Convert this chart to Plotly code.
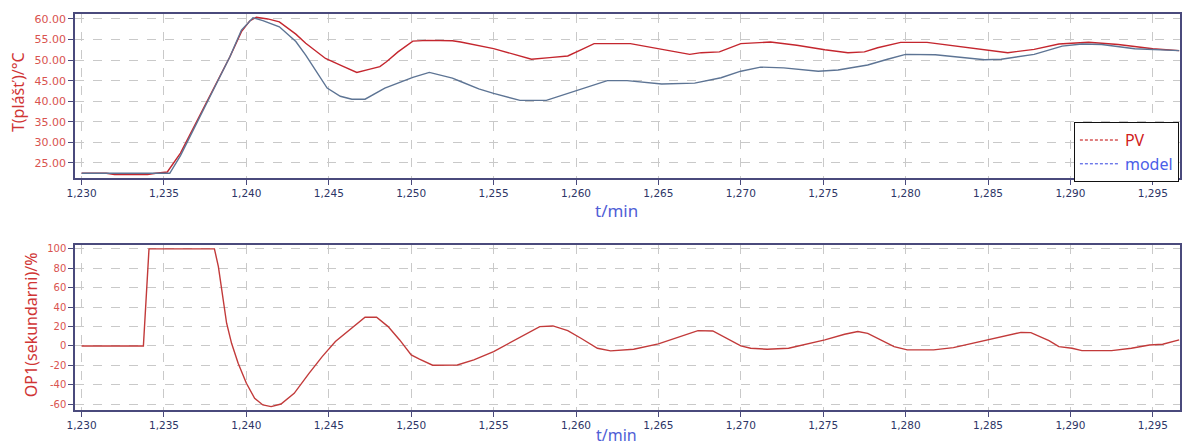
import plotly.graph_objects as go

# ---------------- data ----------------
t_pv = [1230, 1231.5, 1232, 1234, 1234.5, 1235.2, 1236, 1237, 1238, 1239, 1239.7, 1240.2,
        1240.6, 1241.3, 1242, 1243, 1243.6, 1244.8, 1245.8, 1246.7, 1247.5, 1248.1, 1248.5,
        1249.2, 1250.1, 1251, 1252.5, 1253, 1255, 1257.3, 1258.4, 1259.5, 1260.3, 1261.1,
        1263.3, 1264.9, 1266.9, 1267.6, 1268.7, 1270, 1271.8, 1273.4, 1275.1, 1276.5, 1277.5,
        1278.3, 1279.7, 1281.3, 1283.8, 1286.2, 1287.8, 1289.3, 1291.1, 1292.9, 1295, 1296.6]
pv = [22.5, 22.5, 22.2, 22.2, 22.5, 22.8, 27.4, 35.2, 43.0, 50.8, 56.9, 59.5,
      60.4, 60.0, 59.3, 56.3, 54.1, 50.4, 48.6, 47.0, 47.8, 48.4, 49.6,
      52.0, 54.6, 54.8, 54.7, 54.4, 52.8, 50.2, 50.6, 51.0, 52.5, 54.0,
      54.0, 52.8, 51.4, 51.8, 52.0, 54.0, 54.4, 53.6, 52.5, 51.8, 52.0,
      53.0, 54.3, 54.3, 53.1, 51.8, 52.6, 53.9, 54.35, 53.8, 52.75, 52.3]

t_model = [1230, 1235.35, 1236, 1237, 1238, 1239, 1239.7, 1240.4, 1241, 1242, 1243, 1243.6,
           1244.9, 1245.7, 1246.4, 1247.2, 1248.4, 1250.1, 1251.1, 1252.5, 1253, 1254.1, 1255,
           1256.6, 1258.2, 1260, 1261.9, 1263.1, 1265.2, 1267.2, 1268.8, 1270, 1271.2, 1272.6,
           1274.7, 1275.9, 1277.7, 1278.9, 1280, 1281.8, 1283.4, 1284.8, 1285.8, 1287.8, 1289.5,
           1290.7, 1291.9, 1293.9, 1296.6]
model = [22.5, 22.5, 26.8, 34.8, 42.8, 50.8, 57.3, 60.3, 59.6, 58.1, 54.5, 51.2,
         43.2, 41.2, 40.5, 40.5, 43.2, 45.8, 47.0, 45.6, 44.8, 43.0, 41.9,
         40.2, 40.2, 42.5, 45.0, 45.0, 44.2, 44.4, 45.7, 47.3, 48.3, 48.1,
         47.3, 47.6, 48.8, 50.2, 51.4, 51.3, 50.7, 50.1, 50.2, 51.4, 53.4,
         53.9, 53.8, 52.75, 52.3]

t_op = [1230, 1233.75, 1234.09, 1238.06, 1238.3, 1238.5, 1238.8, 1239.1, 1239.5, 1240,
        1240.5, 1241, 1241.5, 1242.1, 1242.9, 1243.8, 1244.6, 1245.4, 1246.4, 1247.2, 1247.9,
        1248.6, 1249.3, 1250, 1250.5, 1251.3, 1252.8, 1253.8, 1255, 1256, 1257, 1257.8,
        1258.6, 1259.5, 1260.3, 1261.3, 1262.1, 1263.5, 1265, 1266.2, 1267.4, 1268.3, 1269.2,
        1270, 1270.6, 1271.6, 1272.9, 1274, 1275.1, 1276.3, 1277.1, 1277.7, 1278.5, 1279.3,
        1280.1, 1281.7, 1282.9, 1284, 1285.2, 1286.4, 1287, 1287.6, 1288.7, 1289.3, 1290.1,
        1290.7, 1292.5, 1293.7, 1294.8, 1295.6, 1296.6]
op = [0, 0, 100, 100, 81.8, 57.7, 23.4, 2.7, -17.9, -38.5,
      -54, -60.8, -62.5, -59.8, -48.8, -28.2, -11, 4.5, 18.2, 29.6, 29.6,
      19.9, 6.2, -9.3, -13.7, -19.9, -19.6, -14.4, -5.8, 3.4, 13, 19.9,
      20.6, 15.8, 7.9, -2.4, -5.1, -3.4, 2.1, 8.9, 15.8, 15.4, 6.9,
      0, -2.4, -3.4, -2.4, 2.1, 6.2, 12, 14.8, 13, 6.2, -0.7,
      -4.1, -4.1, -1.7, 2.7, 6.9, 12.3, 14, 13.7, 5.5, -0.7, -2.4,
      -4.8, -4.8, -2.4, 1, 1.7, 6.2]

x_ticks = [1230, 1235, 1240, 1245, 1250, 1255, 1260, 1265, 1270, 1275, 1280, 1285, 1290, 1295]
top_y_ticks = [25, 30, 35, 40, 45, 50, 55, 60]
bot_y_ticks = [-60, -40, -20, 0, 20, 40, 60, 80, 100]
bot_y_labels = ["-60", "-40", "-20", "0", "20", "40", "60", "80", "100"]

# ---------------- styles ----------------
PV_COLOR = "#c4262e"
MODEL_COLOR = "#5d7494"
OP_COLOR = "#c23a3a"
FRAME = "#4a4a7c"
GRID = "#c9c9c9"
TICK_RED = "#d9534f"
XTICK = "#2d3566"
TITLE_RED = "#d03535"
TITLE_BLUE = "#4f5ed6"

fig = go.Figure()
fig.add_trace(go.Scatter(x=t_pv, y=pv, mode="lines", line=dict(color=PV_COLOR, width=1.4),
                         showlegend=False, xaxis="x", yaxis="y"))
fig.add_trace(go.Scatter(x=t_model, y=model, mode="lines", line=dict(color=MODEL_COLOR, width=1.4),
                         showlegend=False, xaxis="x", yaxis="y"))
fig.add_trace(go.Scatter(x=t_op, y=op, mode="lines", line=dict(color=OP_COLOR, width=1.4),
                         showlegend=False, xaxis="x2", yaxis="y2"))
# legend entries (fine dashed samples as in the reference)
fig.add_trace(go.Scatter(x=[None], y=[None], mode="lines",
                         line=dict(color="#c00000", width=1, dash="3px,2px"),
                         name='<span style="color:#d02020">PV</span>', xaxis="x", yaxis="y"))
fig.add_trace(go.Scatter(x=[None], y=[None], mode="lines",
                         line=dict(color="#3040e0", width=1, dash="3px,2px"),
                         name='<span style="color:#4a5ee8">model</span>', xaxis="x", yaxis="y"))

xr = [1229.6, 1296.65]
common_x = dict(range=xr, tickvals=x_ticks, tickformat=",d", showgrid=True, gridcolor=GRID,
                griddash="dash", gridwidth=1, showline=True, linecolor=FRAME, linewidth=1.5,
                mirror=True, ticks="outside", ticklen=5, tickcolor=FRAME, zeroline=False,
                tickfont=dict(family="DejaVu Sans", size=10.5, color=XTICK))
common_y = dict(showgrid=True, gridcolor=GRID, griddash="dash", gridwidth=1, showline=True,
                linecolor=FRAME, linewidth=1.5, mirror=True, ticks="outside", ticklen=5,
                tickcolor=FRAME, zeroline=False)

fig.update_layout(
    width=1183, height=445,
    margin=dict(l=75, r=1, t=14, b=35),
    paper_bgcolor="white", plot_bgcolor="white",
    xaxis=dict(domain=[0, 1], anchor="y", **common_x),
    yaxis=dict(domain=[0.5859, 1], anchor="x", range=[21.35, 61.2], tickvals=top_y_ticks,
               tickformat=".2f", tickfont=dict(family="DejaVu Sans", size=11, color=TICK_RED),
               **common_y),
    xaxis2=dict(domain=[0, 1], anchor="y2", **common_x),
    yaxis2=dict(domain=[0, 0.4167], anchor="x2", range=[-66, 104], tickvals=bot_y_ticks,
                ticktext=bot_y_labels,
                tickfont=dict(family="DejaVu Sans", size=10, color=TICK_RED), **common_y),
    legend=dict(x=0.904, y=0.727, xanchor="left", yanchor="top", bgcolor="white",
                bordercolor="#111111", borderwidth=1, itemwidth=40,
                font=dict(family="Noto Sans", size=16), tracegroupgap=0),
    annotations=[
        dict(text="T(plášť)/°C", x=-0.0515, y=0.803, xref="paper", yref="paper",
             textangle=-90, showarrow=False, xanchor="center", yanchor="middle",
             font=dict(family="Noto Sans", size=16, color=TITLE_RED)),
        dict(text="OP1(sekundarni)/%", x=-0.0397, y=0.2146, xref="paper", yref="paper",
             textangle=-90, showarrow=False, xanchor="center", yanchor="middle",
             font=dict(family="Noto Sans", size=16, color=TITLE_RED)),
        dict(text="t/min", x=0.4896, y=0.505, xref="paper", yref="paper", showarrow=False,
             xanchor="center", yanchor="middle",
             font=dict(family="Noto Sans", size=17, color=TITLE_BLUE)),
        dict(text="t/min", x=0.4896, y=-0.063, xref="paper", yref="paper", showarrow=False,
             xanchor="center", yanchor="middle",
             font=dict(family="Noto Sans", size=16, color=TITLE_BLUE)),
    ],
)

fig.write_html("out.html", config={"displayModeBar": False},
               post_script="document.body.style.margin='0';")
